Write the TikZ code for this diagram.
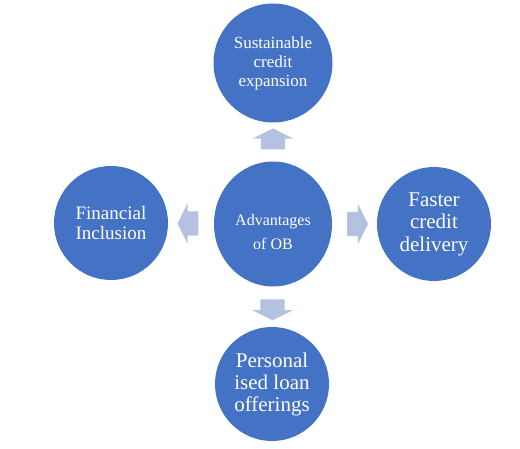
\documentclass[tikz,border=0pt]{standalone}
\usepackage{fontspec}
\setmainfont{Liberation Serif}
\usetikzlibrary{shapes.geometric,shapes.arrows,calc}
\definecolor{obblue}{HTML}{4472C4}
\definecolor{oblight}{HTML}{B4C1E1}

\begin{document}
\begin{tikzpicture}[ x=1pt, y=-1pt, bubble/.style={
          circle, fill=obblue, text=white, align=center, inner sep=0pt,
          minimum size=114pt },
        push/.style={ single arrow, fill=oblight, inner sep=0pt,
          text height=24pt, text depth=0pt, text width=0pt,
          minimum height=21pt, single arrow head extend=8pt,
          single arrow tip angle=127 } ]
        \useasboundingbox (0,0) rectangle (520,449);

        \node[ellipse, fill=obblue, minimum width=118pt, minimum height=125pt,
        label={[text=white, align=center, yshift=-8pt,
        font=\fontsize{16}{24}\selectfont]center:Advantages\\of OB}] (c)
        at (273,224) {};

        \node[bubble, minimum size=119pt, font=\fontsize{17}{19}\selectfont]
        (t) at (273,63) {Sustainable\\credit\\expansion};
        \node[bubble, font=\fontsize{19}{20}\selectfont] (l) at (111,223)
        {Financial\\Inclusion};
        \node[bubble, font=\fontsize{21}{22.5}\selectfont] (r) at (434,224)
        {Faster\\credit\\delivery};
        \node[bubble, font=\fontsize{21}{22}\selectfont] (b) at (272,384)
        {Personal\\ised loan\\offerings};

        \foreach \n/\a/\s/\e in {t/90/north/south,l/180/west/east,
          r/0/east/west,b/270/south/north}
        \node[push, rotate=\a] (p\n) at ($(c.\s)!0.5!(\n.\e)$) {};
      \end{tikzpicture}
\end{document}
